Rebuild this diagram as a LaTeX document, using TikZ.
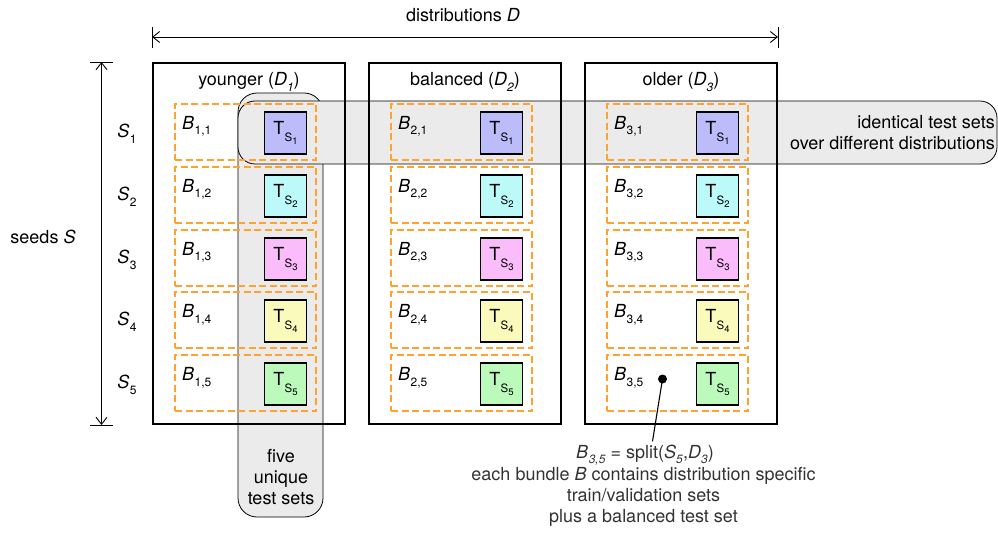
\documentclass[tikz,border=0pt]{standalone}
\usepackage{fontspec}
\setmainfont{TeX Gyre Heros}
\usetikzlibrary{arrows.meta,calc}
\definecolor{bandgray}{HTML}{EBEBEB}
\definecolor{orangeD}{HTML}{FFA22E}
\definecolor{cA}{HTML}{BCBCFA}
\definecolor{cB}{HTML}{BCFAFA}
\definecolor{cC}{HTML}{FABCFA}
\definecolor{cD}{HTML}{FAFABC}
\definecolor{cE}{HTML}{BCFABC}
\definecolor{anntext}{HTML}{333333}
\newcommand\subA[1]{\raisebox{-5.5pt}{\fontsize{12}{12}\selectfont #1}}
\newcommand\subT[1]{\raisebox{-7pt}{\fontsize{11.5}{11.5}\selectfont #1}}
\newcommand\subB[1]{\raisebox{-3.5pt}{\fontsize{9.5}{9.5}\selectfont #1}}
\newcommand\Tlab[1]{T\kern0.3pt\subT{S\subB{#1}}}
\newcommand\Blab[1]{\textit{B}\kern0.5pt\subA{#1}}
\newcommand\Slab[1]{\textit{S}\kern0.5pt\subA{#1}}
\begin{document}
\begin{tikzpicture}[x=1pt,y=-1pt,
  every node/.style={font=\fontsize{18}{21}\selectfont},
  bigbox/.style={draw=black, line width=2.6pt, minimum width=192pt, minimum height=361pt, inner sep=0pt},
  bundle/.style={draw=orangeD, dash pattern=on 7pt off 3.5pt, line width=1.7pt, minimum width=141pt, minimum height=56pt, inner sep=0pt},
  tbox/.style={draw=black, line width=1.1pt, minimum size=42pt, inner sep=0pt},
  band/.style={draw=black, line width=0.8pt, fill=bandgray, inner sep=0pt},
  dimarrow/.style={line width=0.9pt, {Straight Barb[length=7pt,width=11pt]}-{Straight Barb[length=7pt,width=11pt]}},
  bar/.style={line width=0.9pt},
]
\path[use as bounding box] (0,0) rectangle (998,537);

% grey bands
\node[band, rounded corners=19pt, minimum width=85pt, minimum height=424pt] (vband) at (280.5,305) {};
\node[band, rounded corners=17pt, minimum width=759pt, minimum height=63pt] (hband) at (617.5,132.5) {};

% distribution boxes
\node[bigbox] (D1) at (249,243.5) {};
\node[bigbox] (D2) at (465,243.5) {};
\node[bigbox] (D3) at (681,243.5) {};

\node[anchor=base] (t1) at (249,86) {younger (\textit{D}\subA{\textit{1}})};
\node[anchor=base] (t2) at (465,86) {balanced (\textit{D}\subA{\textit{2}})};
\node[anchor=base] (t3) at (681,86) {older (\textit{D}\subA{\textit{3}})};

% bundles and test sets
\foreach \d/\x in {1/152,2/368,3/584}{
  \foreach \r/\c/\cy in {1/cA/132,2/cB/195,3/cC/258,4/cD/320,5/cE/383}{
    \node[bundle] (b\d\r) at (\x+93.5,\cy) {};
    \node[tbox, fill=\c] (T\d\r) at (\x+133.5,\cy+1) {\Tlab{\r}};
    \node[anchor=base west, inner sep=0pt] (Bl\d\r) at (\x+30,\cy-2.5) {\Blab{\d,\r}};
  }
}

% seed labels
\foreach \r/\cy in {1/132,2/195,3/258,4/320,5/383}{
  \node (S\r) at (127,\cy+2) {\Slab{\r}};
}

% dimension arrows
\coordinate (dl) at (152,37);
\coordinate (dr) at (778,37);
\draw[dimarrow] (dl) -- (dr);
\coordinate (dlt) at (152,27); \coordinate (dlb) at (152,48);
\coordinate (drt) at (778,27); \coordinate (drb) at (778,48);
\draw[bar] (dlt) -- (dlb);
\draw[bar] (drt) -- (drb);
\node (dlabel) at (463,15) {distributions \textit{D}};

\coordinate (st) at (101.5,62);
\coordinate (sb) at (101.5,425);
\draw[dimarrow] (st) -- (sb);
\coordinate (stl) at (90,62); \coordinate (str) at (113,62);
\coordinate (sbl) at (90,425); \coordinate (sbr) at (113,425);
\draw[bar] (stl) -- (str);
\draw[bar] (sbl) -- (sbr);
\node (slabel) at (43,237) {seeds \textit{S}};

% band texts
\node[anchor=east, align=right, inner sep=0pt] (htext) at (995,132.5) {identical test sets\\over different distributions};
\node[align=center, inner sep=0pt] (vtext) at (281,477) {five\\unique\\test sets};

% annotation
\node[circle, fill=black, inner sep=0pt, minimum size=9pt] (dot) at (662.5,379) {};
\node[anchor=base, text=anntext, inner sep=3pt] (ann1) at (645,458) {\Blab{\textit{3,5}} = split(\textit{S}\subA{\textit{5}},\textit{D}\subA{\textit{3}})};
\node[anchor=north, align=center, text=anntext, inner sep=0pt] (ann2) at (643.5,467) {each bundle \textit{B} contains distribution specific\\train/validation sets\\plus a balanced test set};
\draw[line width=1.1pt] (dot.center) -- ([xshift=7.5pt]ann1.north);
\end{tikzpicture}
\end{document}
